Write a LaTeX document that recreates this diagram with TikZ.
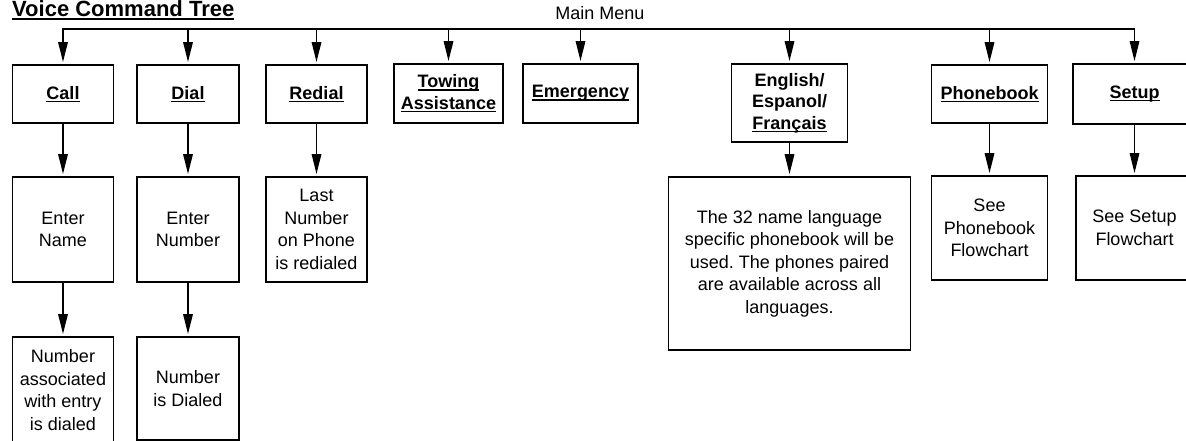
\documentclass[tikz,border=0pt]{standalone}
\usepackage{fontspec}
\setmainfont{Liberation Sans}
\usetikzlibrary{arrows.meta}
\frenchspacing
\newsavebox\ulbox
\newcommand{\ulx}[1]{\sbox\ulbox{#1}\rlap{\rule[-0.16em]{\wd\ulbox}{0.075em}}\usebox\ulbox}
\begin{document}
\begin{tikzpicture}[x=1pt,y=-1pt,
  box/.style={draw, line width=1.8pt, inner sep=0pt, align=center,
    font=\fontsize{18}{22.5}\selectfont},
  hbox/.style={box, font=\fontsize{18}{21.5}\selectfont\bfseries},
  conn/.style={line width=1.6pt, line join=miter,
    -{Triangle[length=20pt,width=9.5pt]}, shorten >=2pt},
  label/.style={inner sep=0pt}]
\useasboundingbox (0,0) rectangle (1186,441);
\clip (0,0) rectangle (1186,441);

% title and heading
\node[label, anchor=base west, font=\fontsize{22}{22}\selectfont\bfseries] (title) at (12,16.5) {\ulx{Voice Command Tree}};
\node[label, anchor=base, font=\fontsize{18}{22}\selectfont] (mainmenu) at (600,20) {Main Menu};
\coordinate (bus) at (0,29);

% first row
\node[hbox, minimum width=101pt, minimum height=58pt] (call) at (63,94) {\ulx{Call}};
\node[hbox, minimum width=102pt, minimum height=58pt] (dial) at (188,94) {\ulx{Dial}};
\node[hbox, minimum width=101pt, minimum height=58pt] (redial) at (316.5,94) {\ulx{Redial}};
\node[hbox, minimum width=109pt, minimum height=59pt] (towing) at (448.5,93.5) {\ulx{Towing}\\\ulx{Assistance}};
\node[hbox, minimum width=115pt, minimum height=59pt] (emerg) at (580.5,93.5) {\ulx{Emergency}};
\node[hbox, minimum width=116pt, minimum height=78pt] (english) at (789.5,103) {English/\\Espanol/\\\ulx{Français}};
\node[hbox, minimum width=116pt, minimum height=58pt] (phonebook) at (989.5,94) {\ulx{Phonebook}};
\node[hbox, minimum width=123pt, minimum height=60pt] (setup) at (1134.5,94) {\ulx{Setup}};

% second row
\node[box, minimum width=101pt, minimum height=105pt] (entername) at (63,229.5) {Enter\\Name};
\node[box, minimum width=102pt, minimum height=105pt] (enternumber) at (188,229.5) {Enter\\Number};
\node[box, minimum width=101pt, minimum height=105pt] (lastnum) at (316.5,229.5) {Last\\Number\\on Phone\\is redialed};
\node[box, minimum width=242pt, minimum height=173pt] (langdesc) at (789.5,263.5) {The 32 name language\\specific phonebook will be\\used. The phones paired\\are available across all\\languages.};
\node[box, minimum width=116pt, minimum height=104pt] (seepb) at (989.5,228) {See\\Phonebook\\Flowchart};
\node[box, minimum width=117pt, minimum height=104pt] (seesetup) at (1134.5,228) {See Setup\\Flowchart};

% third row
\node[box, minimum width=101pt, minimum height=106pt] (numassoc) at (63,390) {Number\\associated\\with entry\\is dialed};
\node[box, minimum width=102pt, minimum height=103pt] (numdialed) at (188,388.5) {Number\\is Dialed};

% bus and drops
\draw[conn] (setup.north |- bus) -- (call.north |- bus) -- (call.north);
\draw[conn] (emerg.north |- bus) -- (setup.north |- bus) -- (setup.north);
\draw[conn] (dial.north |- bus) -- (dial.north);
\draw[conn] (redial.north |- bus) -- (redial.north);
\draw[conn] (towing.north |- bus) -- (towing.north);
\draw[conn] (emerg.north |- bus) -- (emerg.north);
\draw[conn] (english.north |- bus) -- (english.north);
\draw[conn] (phonebook.north |- bus) -- (phonebook.north);

% vertical connectors
\draw[conn] (call.south) -- (entername.north);
\draw[conn] (entername.south) -- (numassoc.north);
\draw[conn] (dial.south) -- (enternumber.north);
\draw[conn] (enternumber.south) -- (numdialed.north);
\draw[conn] (redial.south) -- (lastnum.north);
\draw[conn] (english.south) -- (langdesc.north);
\draw[conn] (phonebook.south) -- (seepb.north);
\draw[conn] (setup.south) -- (seesetup.north);
\end{tikzpicture}
\end{document}
